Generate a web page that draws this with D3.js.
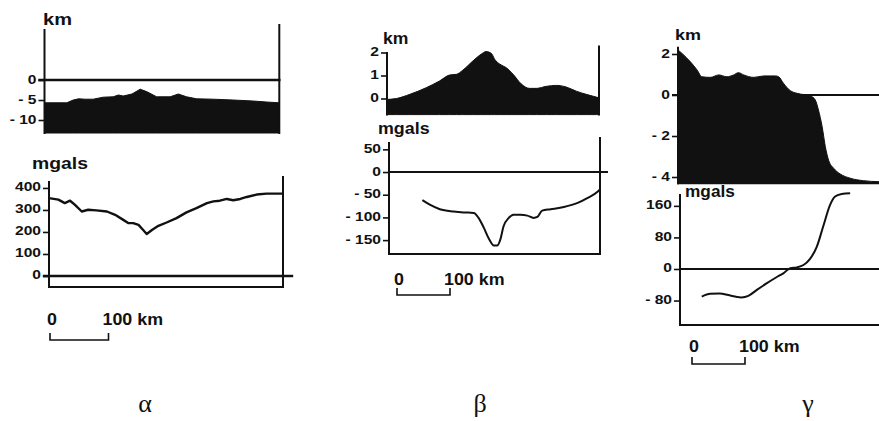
<!DOCTYPE html>
<html><head><meta charset="utf-8">
<script src="https://cdn.jsdelivr.net/npm/d3@7"></script>
<style>body{margin:0;background:#fff}svg{display:block}</style>
</head><body><svg id="c" width="879" height="421"></svg>
<script>
// ---------- data (km along profile, values) ----------
const alphaTopoKm   = [0,38,49,58,69,83,100,117,126,134,149,163,174,191,214,228,242,259,287,321,355,378,400];
const alphaTopoElev = [-5.7,-5.7,-5.0,-4.7,-4.8,-4.8,-4.3,-4.2,-3.75,-4.0,-3.5,-2.3,-2.9,-4.2,-4.2,-3.5,-4.2,-4.7,-4.8,-5.0,-5.25,-5.5,-5.7];
const alphaGravKm   = [0,16,27,36,44,56,67,81,99,113,127,136,144,153,161,167,176,187,201,218,235,252,270,281,292,304,315,327,338,355,372,389,400];
const alphaGravMgal = [354,347,331,342,324,293,301,298,293,278,255,240,240,232,209,191,209,228,243,263,289,308,331,339,342,350,344,350,359,370,374,374,374];

const betaTopoKm   = [0,18,43,74,99,118,131,143,162,178,187,197,203,213,225,238,253,269,282,301,320,338,357,376,395,400];
const betaTopoElev = [-0.04,0,0.18,0.47,0.76,1.02,1.05,1.23,1.63,1.93,2.04,1.96,1.71,1.49,1.34,1.05,0.64,0.44,0.44,0.53,0.57,0.50,0.32,0.18,0.06,0.03];
const betaGravKm   = [63,77,96,122,141,160,169,179,188,198,204,210,216,226,235,248,261,273,280,289,305,330,356,375,394,399];
const betaGravMgal = [-62,-72,-82,-87,-89,-90,-101,-123,-146,-162,-162,-149,-120,-101,-94,-94,-96,-101,-99,-85,-82,-77,-68,-57,-43,-37];

const gammaTopoKm   = [0,7.5,23,36,45,61,77,92,105,114,124,143,162,184,190,199,212,225,250,259,265,272,278,284,294,306,325,350,380,400];
const gammaTopoElev = [2.2,2.03,1.63,1.22,0.89,0.86,0.98,0.89,0.98,1.09,0.98,0.86,0.93,0.93,0.89,0.57,0.21,0.08,-0.05,-0.24,-0.73,-1.55,-2.52,-3.17,-3.58,-3.85,-4.06,-4.18,-4.23,-4.24];
const gammaGravKm   = [41,57,75,91,104,116,129,145,164,182,195,208,220,233,245,258,270,283,292,305,321];
const gammaGravMgal = [-70,-63,-62,-66,-70,-72,-68,-53,-36,-21,-11,2,4,10,25,56,107,162,183,190,192];

// tick values
const alphaTopoTicks = [0,-5,-10];
const alphaGravTicks = [400,300,200,100,0];
const betaTopoTicks  = [2,1,0];
const betaGravTicks  = [50,0,-50,-100,-150];
const gammaTopoTicks = [2,0,-2,-4];
const gammaGravTicks = [160,80,0,-80];

const panelNames = ["α","β","γ"];
const scaleBarKm = 100;

// ---------- drawing ----------
const svg = d3.select("#c");
const FONT = "'Liberation Sans', Arial, Helvetica, sans-serif";
const INK = "#111";

function fmt(v){ return v < 0 ? "- " + Math.abs(v) : String(v); }
function line(x1,x2,y1,y2,w){
  svg.append("line").attr("x1",x1).attr("x2",x2).attr("y1",y1).attr("y2",y2)
    .attr("stroke",INK).attr("stroke-width",w||2).attr("stroke-linecap","square");
}
function label(x,y,txt,size,sx,anchor){
  svg.append("text").attr("transform",`translate(${x},${y}) scale(${sx||1},1)`)
    .attr("text-anchor",anchor||"start").attr("font-family",FONT).attr("font-weight","bold")
    .attr("font-size",size).attr("fill",INK).text(txt);
}
function yAxis(y, xPos, ticks){
  const g = svg.append("g").attr("transform",`translate(${xPos},0)`)
    .call(d3.axisLeft(y).tickValues(ticks).tickFormat(fmt).tickSize(6).tickSizeOuter(0));
  g.select(".domain").remove();
  g.selectAll(".tick line").attr("stroke",INK).attr("stroke-width",1.6);
  g.selectAll(".tick text").attr("font-family",FONT).attr("font-weight","bold")
    .attr("font-size",12).attr("fill",INK).attr("dy",null)
    .attr("x",-8/1.3).attr("y",3).attr("transform","scale(1.3,1)");
}
function topo(x, y, kms, vals, bottomVal, curve){
  const pts = kms.map((k,i)=>[k,vals[i]]);
  svg.append("path").datum(pts)
    .attr("d", d3.area().x(d=>x(d[0])).y0(y(bottomVal)).y1(d=>y(d[1])).curve(curve))
    .attr("fill",INK).attr("stroke",INK).attr("stroke-width",1);
}
function grav(x, y, kms, vals, curve, w){
  const pts = kms.map((k,i)=>[k,vals[i]]);
  svg.append("path").datum(pts)
    .attr("d", d3.line().x(d=>x(d[0])).y(d=>y(d[1])).curve(curve))
    .attr("fill","none").attr("stroke",INK).attr("stroke-width",w||2).attr("stroke-linejoin","round");
}
function scaleBar(x, x0, yText, yBar){
  const a = x(0) + x0, b = a + (x(scaleBarKm) - x(0));
  label(a-3, yText, "0", 17, 1.05);
  label(b-6, yText, scaleBarKm + " km", 17, 1.05);
  svg.append("path").attr("d",`M${a},${yBar-7}V${yBar}H${b}V${yBar-7}`)
    .attr("fill","none").attr("stroke",INK).attr("stroke-width",1.6);
}

// ===== Panel α =====
{
  const x = d3.scaleLinear([0,400],[44.5,279.3]);
  const y = d3.scaleLinear([-13.25,12.5],[133,30]);
  topo(x, y, alphaTopoKm, alphaTopoElev, -13.25, d3.curveLinear);
  line(x(0)-5, x(400), y(0), y(0), 2.4);
  line(x(0), x(0), y(12.5), y(-13.25), 2);
  line(x(400), x(400), y(12.5)-5, y(-13.25), 2);
  yAxis(y, x(0), alphaTopoTicks);
  label(43, 25, "km", 17, 1.18);

  const x2 = d3.scaleLinear([0,400],[49,283]);
  const y2 = d3.scaleLinear([-50,427],[287,182]);
  line(x2(0)-5, x2(400)+9, y2(0), y2(0), 2.4);
  line(x2(0), x2(400), y2(-50), y2(-50), 2);
  line(x2(0), x2(0), y2(427), y2(-50), 2);
  line(x2(400), x2(400), y2(427)-5, y2(-50), 2);
  yAxis(y2, x2(0), alphaGravTicks);
  grav(x2, y2, alphaGravKm, alphaGravMgal, d3.curveLinear, 2.4);
  label(32, 169, "mgals", 17, 1.14);
  scaleBar(x2, 1, 325, 340);
}

// ===== Panel β =====
{
  const x = d3.scaleLinear([0,400],[387,599]);
  const y = d3.scaleLinear([-0.7,2.26],[114.6,46.5]);
  topo(x, y, betaTopoKm, betaTopoElev, -0.7, d3.curveMonotoneX);
  line(x(0), x(0), y(2)+0.5, y(-0.7), 2);
  line(x(400), x(400), y(2.26), y(-0.7), 2);
  yAxis(y, x(0), betaTopoTicks);
  label(383, 44, "km", 16, 1.1);

  const x2 = d3.scaleLinear([0,400],[389,601]);
  const y2 = d3.scaleLinear([-180.6,75],[254,138]);
  line(x2(0), x2(400)+6, y2(0), y2(0), 2);
  line(x2(0), x2(400)-1, y2(-180.6), y2(-180.6), 2);
  line(x2(0), x2(0), y2(64), y2(-180.6), 2);
  line(x2(400)-1, x2(400)-1, y2(75), y2(-180.6), 2);
  yAxis(y2, x2(0), betaGravTicks);
  grav(x2, y2, betaGravKm, betaGravMgal, d3.curveMonotoneX, 2);
  label(378, 134, "mgals", 17, 1.05);
  scaleBar(x2, 8, 285, 295);
}

// ===== Panel γ =====
{
  const x = d3.scaleLinear([0,400],[678,890]);
  const y = d3.scaleLinear([-4.3,2.3],[183.15,47.85]);
  line(x(0)-5, 879, y(0), y(0), 2);
  topo(x, y, gammaTopoKm, gammaTopoElev, -4.3, d3.curveMonotoneX);
  line(x(0), 879, y(-4.3), y(-4.3), 2);
  line(x(0), x(0), y(2.3), y(-4.3), 2);
  yAxis(y, x(0), gammaTopoTicks);
  label(675, 40, "km", 15, 1.2);

  const x2 = d3.scaleLinear([0,400],[680,892]);
  const y2 = d3.scaleLinear([-142,187.5],[325,195]);
  line(x2(0), 879, y2(0), y2(0), 2);
  line(x2(0), 879, y2(-142), y2(-142), 2);
  line(x2(0), x2(0), y2(187.5), y2(-142), 2);
  yAxis(y2, x2(0), gammaGravTicks);
  grav(x2, y2, gammaGravKm, gammaGravMgal, d3.curveMonotoneX, 2);
  label(685, 197, "mgals", 16, 1.08);
  scaleBar(x2, 12, 352, 364);
}

// ===== panel letters =====
const letterX = [145, 480, 808];
panelNames.forEach((n,i)=>{
  svg.append("text").attr("x",letterX[i]).attr("y",412).attr("text-anchor","middle")
    .attr("font-family","'Liberation Serif','Times New Roman',serif").attr("font-size",26)
    .attr("fill",INK).text(n);
});
</script>
</body></html>
